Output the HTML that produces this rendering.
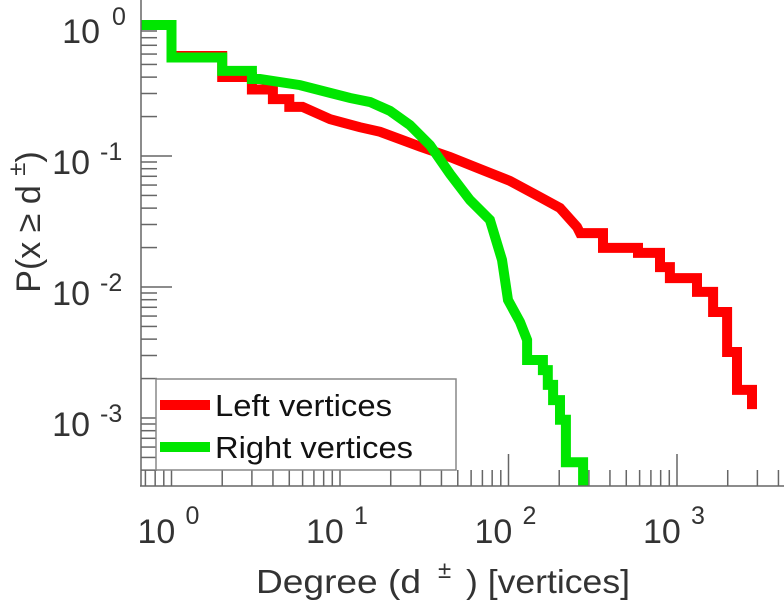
<!DOCTYPE html>
<html><head><meta charset="utf-8"><style>
html,body{margin:0;padding:0;background:#fff;}
svg{display:block;font-family:"Liberation Sans",Arial,sans-serif;}
</style></head><body>
<svg id="chart" width="784" height="600" viewBox="0 0 784 600" xmlns="http://www.w3.org/2000/svg">
<defs><clipPath id="plotclip"><rect x="141" y="0" width="643" height="486"/></clipPath></defs>
<g id="ticks"></g>
<g id="series" clip-path="url(#plotclip)"></g>
<line x1="140" y1="486" x2="784" y2="486" stroke="#666" stroke-width="1.5"/>
<line x1="141" y1="0" x2="141" y2="486" stroke="#666" stroke-width="1.5"/>
<g id="labels"></g>
<g>
  <rect x="156" y="379" width="300" height="91" fill="#fff" stroke="#888" stroke-width="1.5"/>
  <line x1="160" y1="405" x2="210" y2="405" stroke="#ff0000" stroke-width="10"/>
  <text x="215" y="416" font-size="31" textLength="177" lengthAdjust="spacingAndGlyphs" fill="#111">Left vertices</text>
  <line x1="160" y1="447" x2="210" y2="447" stroke="#00e600" stroke-width="10"/>
  <text x="215" y="458" font-size="31" textLength="198" lengthAdjust="spacingAndGlyphs" fill="#111">Right vertices</text>
</g>
<text x="256" y="593" font-size="33" fill="#333"><tspan textLength="165" lengthAdjust="spacingAndGlyphs">Degree (d</tspan><tspan x="438" dy="-15" font-size="24">±</tspan><tspan x="466" dy="15" textLength="164" lengthAdjust="spacingAndGlyphs">) [vertices]</tspan></text>
<text transform="translate(40,222) rotate(-90)" text-anchor="middle" font-size="34" fill="#333">P(x  ≥  d <tspan dy="-15" font-size="24">±</tspan><tspan dy="15">)</tspan></text>
</svg>
<script>
const leftDeg = [0.65,1,1,2,2,3,3,4,4,5,5,6,8.73,13.1,17.3,29.8,45,67.7,102,154,202,255,266,364,364,587,587,793,793,908,908,1315,1315,1637,1637,1982,1982,2271,2271,2786,2786];
const leftP = [1,1,0.58,0.58,0.401,0.401,0.322,0.322,0.272,0.272,0.237,0.237,0.191,0.166,0.153,0.118,0.0983,0.0796,0.0645,0.0486,0.0401,0.0287,0.0258,0.0258,0.0199,0.0199,0.0182,0.0182,0.0142,0.0142,0.0117,0.0117,0.00917,0.00917,0.00644,0.00644,0.00319,0.00319,0.00164,0.00164,0.00117];
const rightDeg = [0.65,1,1,2,2,3,3,3.35,5.79,8.73,11.5,15.1,19.8,26,34.2,45,59.1,77.6,91.5,99.3,117,129,129,160,160,171,171,184,184,202,202,219,219,277,277];
const rightP = [1,1,0.565,0.565,0.446,0.446,0.387,0.387,0.348,0.303,0.277,0.258,0.221,0.172,0.121,0.0729,0.0461,0.0325,0.0161,0.00796,0.00541,0.00394,0.00277,0.00277,0.00232,0.00232,0.00179,0.00179,0.00137,0.00137,0.00097,0.00097,0.00046,0.00046,0.0002];
const xTickExps = [0,1,2,3];
const yTickExps = [0,-1,-2,-3];

const NS = "http://www.w3.org/2000/svg";
function xs(d){ return 171.5 + 168.5*Math.log10(d); }
function ys(p){ return 25 - 131*Math.log10(p); }
function mk(tag, attrs, parent){ const e=document.createElementNS(NS,tag); for(const k in attrs) e.setAttribute(k,attrs[k]); parent.appendChild(e); return e; }

const series = document.getElementById('series');
function drawSeries(deg, p, color, name){
  const pts = deg.map((d,i)=>xs(d).toFixed(1)+','+ys(p[i]).toFixed(1)).join(' ');
  const pl = mk('polyline',{points:pts,fill:'none',stroke:color,'stroke-width':10,'stroke-linejoin':'miter','stroke-linecap':'butt'},series);
  
  
}
drawSeries(leftDeg,leftP,'#ff0000','left-vertices-line');
drawSeries(rightDeg,rightP,'#00e600','right-vertices-line');

const ticks = document.getElementById('ticks');
for(let e=-1;e<=3;e++){
  for(let k=1;k<=9;k++){
    const x = xs(k*Math.pow(10,e));
    if(x<141||x>784) continue;
    const len = k===1?32:16;
    const t = mk('line',{x1:x,y1:486,x2:x,y2:486-len,stroke:'#666','stroke-width':1.5},ticks);
    
    
  }
}
for(let e=-4;e<=0;e++){
  for(let k=1;k<=9;k++){
    const y = ys(k*Math.pow(10,e));
    if(y<0||y>486) continue;
    const len = k===1?31:16;
    const t = mk('line',{x1:141,y1:y,x2:141+len,y2:y,stroke:'#666','stroke-width':1.5},ticks);
    
    
  }
}

const labels = document.getElementById('labels');
xTickExps.forEach(e=>{
  const x = xs(Math.pow(10,e));
  const g = mk('text',{x:x-34,y:543,'font-size':34,fill:'#333'},labels);
  
  
  g.textContent='10';
  const s = mk('tspan',{x:x+14,y:524,'font-size':25},g);
  s.textContent=String(e);
});
yTickExps.forEach(e=>{
  const y = ys(Math.pow(10,e));
  const g = mk('text',{x:e===0?100:90,y:y+18,'font-size':34,fill:'#333','text-anchor':'end'},labels);
  
  
  g.textContent='10';
  const s = mk('text',{x:e===0?112:100,y:y+(e===0?0:4),'font-size':25,fill:'#333'},labels);
  
  
  s.textContent=String(e);
});
</script>
</body></html>
